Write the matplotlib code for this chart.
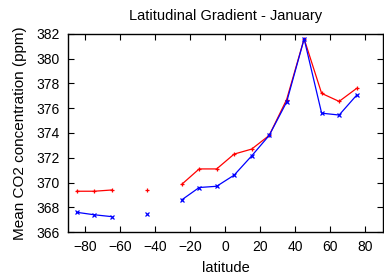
import numpy as np
import matplotlib
matplotlib.use("Agg")
import matplotlib.pyplot as plt

plt.rcParams['font.family'] = ['Liberation Sans', 'DejaVu Sans']

#latitude bands, nan = no data
lat = [-85, -75, -65, -55, -45, -35, -25, -15, -5, 5, 15, 25, 35, 45, 55, 65, 75]
co2_red = [369.3, 369.3, 369.4, np.nan, 369.4, np.nan, 369.85, 371.1, 371.1, 372.3, 372.7, 373.8, 376.7, 381.6, 377.2, 376.55, 377.6]
co2_blue = [367.6, 367.4, 367.25, np.nan, 367.5, np.nan, 368.6, 369.6, 369.7, 370.6, 372.15, 373.8, 376.5, 381.6, 375.6, 375.45, 377.05]

xticks = [-80, -60, -40, -20, 0, 20, 40, 60, 80]
yticks = [366, 368, 370, 372, 374, 376, 378, 380, 382]

fig = plt.figure(figsize=(3.84, 2.8), dpi=100)
ax = fig.add_axes([0.177, 0.171, 0.820, 0.708])

ax.plot(lat, co2_red, color='red', lw=0.9, marker='+', ms=3.2, mew=0.9)
ax.plot(lat, co2_blue, color='blue', lw=0.9, marker='x', ms=3, mew=0.9)

ax.set_xlim(-90, 90)
ax.set_ylim(366, 382)
ax.set_xticks(xticks)
ax.set_yticks(yticks)
ax.tick_params(direction='in', top=True, right=True, labelsize=10, length=4, pad=6)
for s in ax.spines.values():
    s.set_linewidth(1.0)

ax.set_title("Latitudinal Gradient - January", fontsize=10.5, pad=10)
ax.set_xlabel("latitude", fontsize=10.5, labelpad=5)
ax.set_ylabel("Mean CO2 concentration (ppm)", fontsize=11, labelpad=7)

fig.savefig("out.png", dpi=100)
